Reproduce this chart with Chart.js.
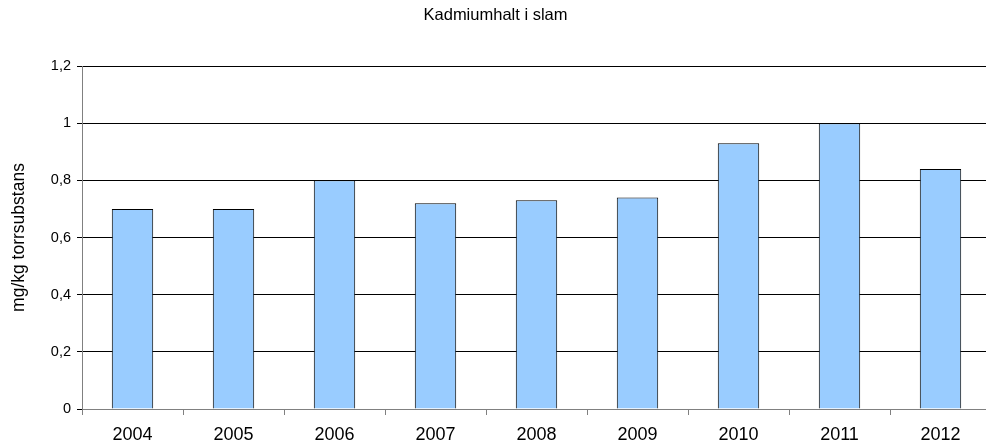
<!DOCTYPE html>
<html>
<head>
<meta charset="utf-8">
<script src="https://cdn.jsdelivr.net/npm/chart.js@4/dist/chart.umd.min.js"></script>
<style>
  html, body { margin: 0; padding: 0; background: #fff; overflow: hidden; width: 986px; height: 443px; }
  #wrap { position: absolute; left: 0; top: 0; width: 1000px; height: 443px; }
</style>
</head>
<body>
<div id="wrap"><canvas id="c"></canvas></div>
<script>
const chartTitle = "Kadmiumhalt i slam";
const yAxisTitle = "mg/kg torrsubstans";
const years = ["2004", "2005", "2006", "2007", "2008", "2009", "2010", "2011", "2012"];
const cadmium = [0.70, 0.70, 0.80, 0.72, 0.73, 0.74, 0.93, 1.00, 0.84];
const yTickValues = [0, 0.2, 0.4, 0.6, 0.8, 1.0, 1.2];

const FONT = "'Liberation Sans', Arial, sans-serif";

new Chart(document.getElementById('c'), {
  type: 'bar',
  data: {
    labels: years,
    datasets: [{
      data: cadmium,
      backgroundColor: '#99CCFF',
      borderColor: '#000000',
      borderWidth: 1,
      categoryPercentage: 1,
      barPercentage: 0.41
    }]
  },
  options: {
    responsive: true,
    maintainAspectRatio: false,
    animation: false,
    devicePixelRatio: 1,
    layout: { padding: { left: 0, right: 9, top: 0, bottom: 0 } },
    plugins: {
      legend: { display: false },
      tooltip: { enabled: false },
      title: {
        display: true,
        text: chartTitle,
        color: '#000',
        font: { family: FONT, size: 16.5, weight: 'normal' },
        padding: { top: 6, bottom: 40.2 }
      }
    },
    scales: {
      x: {
        offset: true,
        grid: {
          display: true,
          offset: true,
          drawOnChartArea: false,
          drawTicks: true,
          tickLength: 6,
          tickColor: '#808080'
        },
        border: { display: true, color: '#808080', width: 1 },
        ticks: {
          color: '#000',
          font: { family: FONT, size: 18 },
          padding: 9.5,
          maxRotation: 0,
          autoSkip: false
        },
        afterFit: (s) => { s.height = 34; }
      },
      y: {
        min: 0,
        max: 1.2,
        afterBuildTicks: (s) => { s.ticks = yTickValues.map(v => ({ value: v })); },
        grid: {
          color: '#000000',
          lineWidth: 1,
          drawTicks: true,
          tickLength: 5,
          tickColor: '#000000'
        },
        border: { display: true, color: '#808080', width: 1 },
        ticks: {
          color: '#000',
          font: { family: FONT, size: 14.5 },
          padding: 6,
          callback: (v) => String(Math.round(v * 10) / 10).replace('.', ',')
        },
        title: {
          display: true,
          text: yAxisTitle,
          color: '#000',
          font: { family: FONT, size: 17.5 },
          padding: { top: 8.5, bottom: 0 }
        },
        afterFit: (s) => { s.width = 82; }
      }
    }
  }
});
</script>
</body>
</html>
